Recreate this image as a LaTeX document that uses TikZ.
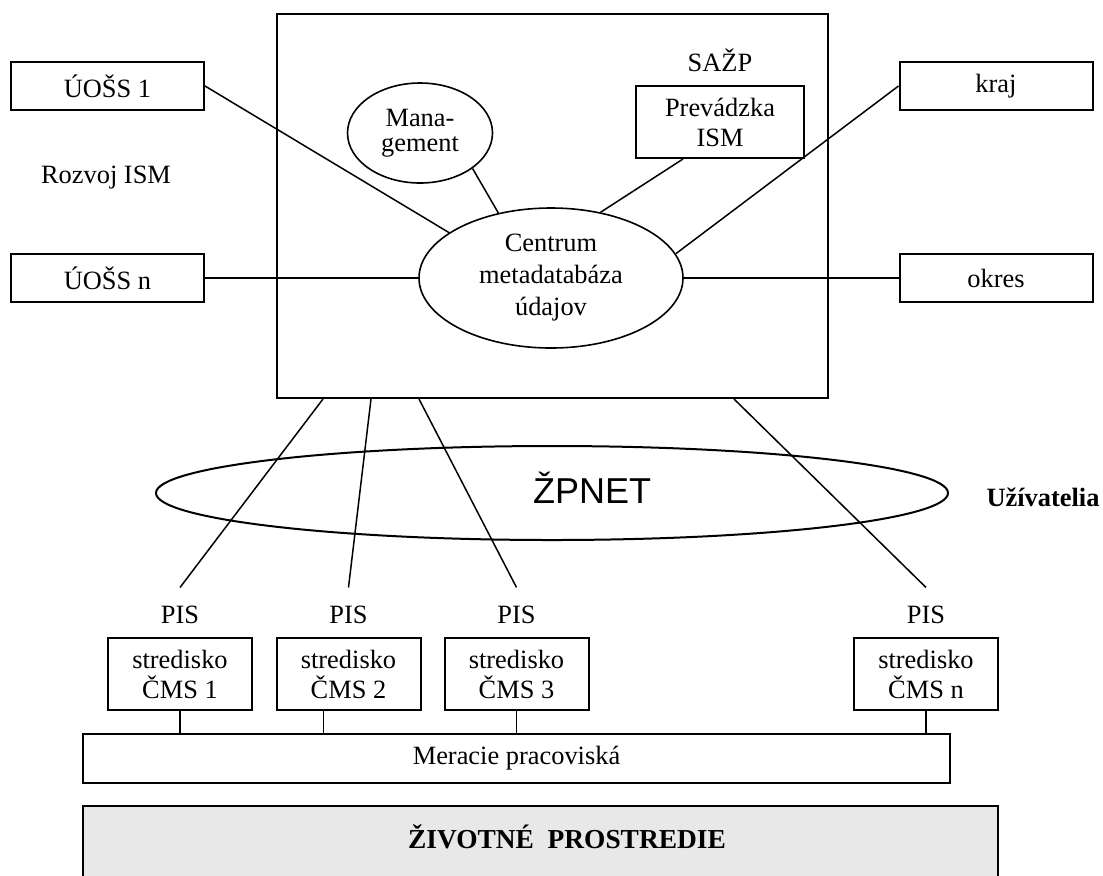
\documentclass[tikz,border=0pt]{standalone}
\usepackage{fontspec}
\setmainfont{Liberation Serif}
\newfontfamily\netfont{Liberation Sans}
\usepackage{tikz}
\usetikzlibrary{calc,positioning,shapes.geometric}
\definecolor{envgray}{RGB}{232,232,232}
\newcommand{\txtsize}{\fontsize{13.2}{15}\selectfont}
\tikzset{%
	unit/.style    = {draw, rectangle, line width=1pt, minimum width=96.5pt, minimum height=24pt, inner sep=0pt, font=\txtsize, text centered},
	station/.style = {draw, rectangle, line width=1pt, minimum width=72pt, minimum height=36pt, inner sep=0pt, align=center, font=\txtsize},
	oval/.style    = {draw, ellipse, line width=0.8pt, inner sep=0pt, align=center, font=\txtsize},
	lbl/.style     = {inner sep=0pt, font=\txtsize},
	link/.style    = {line width=0.75pt},
}

\begin{document}
\begin{tikzpicture}[x=0.5pt, y=-0.5pt]
	\useasboundingbox (0,0) rectangle (1103,875);
	
	% upper part
	\node[draw, rectangle, line width=1pt, minimum width=275.5pt, minimum height=192pt, inner sep=0pt] (centre) at (552.5,206) {};
	\node[unit] (uoss1) at (107.5,86) {ÚOŠS 1};
	\node[unit] (uossn) at (107.5,278) {ÚOŠS n};
	\node[unit] (kraj) at (996,86) {kraj};
	\node[unit] (okres) at (996,278) {okres};
	\node[lbl, anchor=base] (rozvoj) at (106,183) {Rozvoj ISM};
	
	\node[oval, minimum width=72.5pt, minimum height=50pt, font=\fontsize{13.2}{12.5}\selectfont] (mgmt) at (420,133) {Mana-\\gement};
	\node[oval, minimum width=132pt, minimum height=70pt, font=\fontsize{13.2}{16}\selectfont] (centrum) at (551,278) {Centrum\\metadatabáza\\údajov};
	\node[station, minimum width=84pt] (prevadzka) at (720,122) {Prevádzka\\ISM};
	\node[lbl, above=6.5pt of prevadzka] (sazp) {SAŽP};
	
	\draw[link] (uoss1.east) -- (centrum.156);
	\draw[link] (uossn.east) -- (centrum.west);
	\draw[link] (mgmt.-34) -- (centrum.129);
	\draw[link] (prevadzka.-135) -- (centrum.53);
	\draw[link] (kraj.west) -- (centrum.11);
	\draw[link] (okres.west) -- (centrum.east);
	
	% network
	\node[draw, ellipse, line width=1pt, minimum width=396pt, minimum height=47pt, inner sep=0pt] (zpnet) at (552,493) {};
	\node[anchor=base, inner sep=0pt, font=\netfont\fontsize{18}{20}\selectfont] (zpnettxt) at (592,503) {ŽPNET};
	\node[lbl, anchor=base, font=\txtsize\bfseries] (users) at (1043,506) {Užívatelia};
	
	% stations
	\node[station] (cms1) at (180,674) {stredisko\\ČMS 1};
	\node[station] (cms2) at (348.5,674) {stredisko\\ČMS 2};
	\node[station] (cms3) at (516.5,674) {stredisko\\ČMS 3};
	\node[station] (cmsn) at (926,674) {stredisko\\ČMS n};
	\node[lbl, above=6.5pt of cms1] (pis1) {PIS};
	\node[lbl, above=6.5pt of cms2] (pis2) {PIS};
	\node[lbl, above=6.5pt of cms3] (pis3) {PIS};
	\node[lbl, above=6.5pt of cmsn] (pisn) {PIS};
	
	\coordinate (e1) at ([yshift=9pt]pis1.north);
	\coordinate (e2) at ([yshift=9pt]pis2.north);
	\coordinate (e3) at ([yshift=9pt]pis3.north);
	\coordinate (en) at ([yshift=9pt]pisn.north);
	\draw[link] ([xshift=23.5pt]centre.south west) -- (e1);
	\draw[link] ([xshift=47.5pt]centre.south west) -- (e2);
	\draw[link] ([xshift=71.5pt]centre.south west) -- (e3);
	\draw[link] ([xshift=229pt]centre.south west) -- (en);
	
	% measurement and environment
	\node[draw, rectangle, line width=1pt, minimum width=433.5pt, minimum height=24.5pt, inner sep=0pt, font=\txtsize] (meracie) at (516.5,758.5) {Meracie pracoviská};
	\coordinate (c2) at ([xshift=24pt]cms2.south west);
	\draw[link] (cms1.south) -- (cms1.south |- meracie.north);
	\draw[link] (c2) -- (c2 |- meracie.north);
	\draw[link] (cms3.south) -- (cms3.south |- meracie.north);
	\draw[link] (cmsn.south) -- (cmsn.south |- meracie.north);
	
	\node[draw, fill=envgray, line width=1pt, minimum width=457.5pt, minimum height=50pt, inner sep=0pt] (env) at (540.5,856) {};
	\node[lbl, anchor=base, font=\fontsize{13.7}{16}\selectfont\bfseries] (envtxt) at (567,848) {ŽIVOTNÉ\ \ PROSTREDIE};
\end{tikzpicture}
\end{document}
